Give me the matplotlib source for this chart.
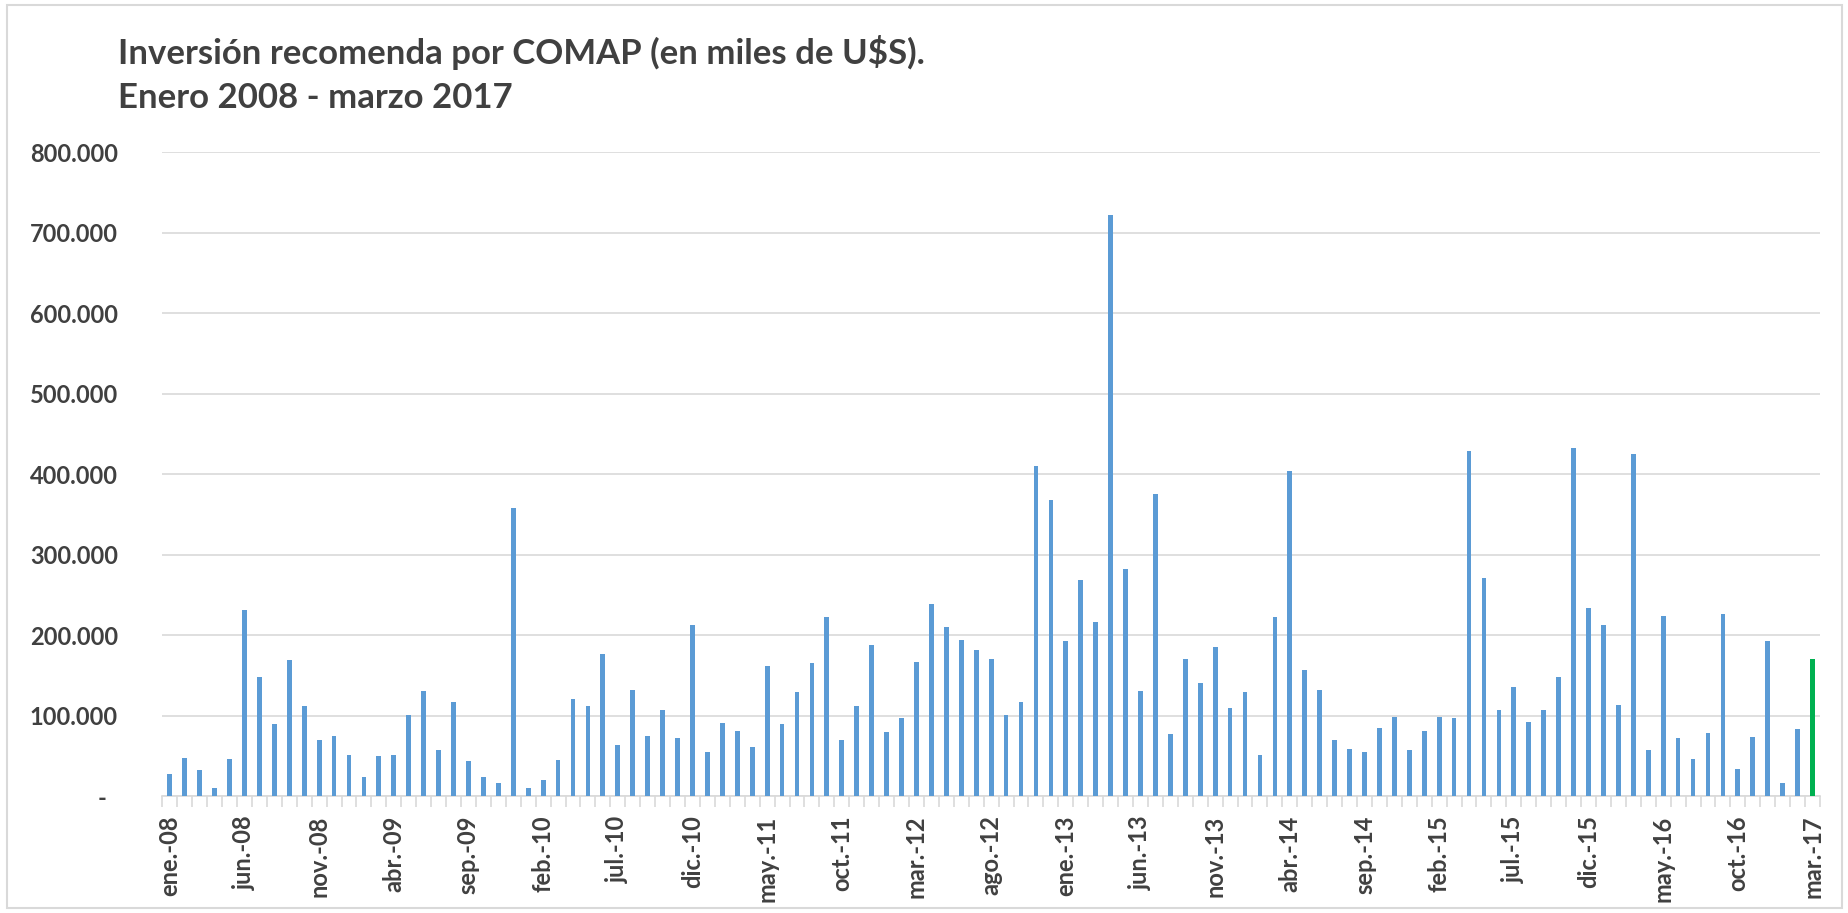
import numpy as np
import matplotlib
matplotlib.use("Agg")
import matplotlib.pyplot as plt
from matplotlib.ticker import FuncFormatter, FixedLocator

plt.rcParams['font.family'] = ['Lato', 'DejaVu Sans']

# monthly values, ene-2008 .. mar-2017 (miles de U$S)
v2008 = [27000, 47600, 32000, 9500, 46000, 230600, 147800, 89000, 168500, 111400, 70000, 75000]
v2009 = [51000, 23600, 49300, 51000, 100200, 130400, 57000, 116400, 43000, 24000, 15700, 358000]
v2010 = [9500, 19500, 44700, 121000, 111400, 176400, 63800, 132000, 75000, 106400, 71600, 213000]
v2011 = [54200, 90700, 81200, 60500, 162000, 89000, 128800, 165000, 222000, 70000, 111400, 187600]
v2012 = [79500, 97000, 166900, 238500, 210000, 194000, 181000, 170000, 100200, 116400, 410000, 367700]
v2013 = [192500, 268700, 216000, 722000, 281600, 130000, 375000, 76600, 170000, 141000, 184700, 109700]
v2014 = [128800, 51000, 222000, 404000, 157000, 132000, 70000, 58800, 54200, 84000, 98500, 57000]
v2015 = [81000, 98500, 97000, 428000, 270400, 106400, 135000, 92000, 106400, 147800, 432000, 233500]
v2016 = [213000, 112600, 425000, 57000, 224000, 71600, 46000, 77800, 225700, 33000, 72900, 192500]
v2017 = [15700, 82800, 170000]

values = v2008 + v2009 + v2010 + v2011 + v2012 + v2013 + v2014 + v2015 + v2016 + v2017
meses = ['ene.', 'feb.', 'mar.', 'abr.', 'may.', 'jun.', 'jul.', 'ago.', 'sep.', 'oct.', 'nov.', 'dic.']
labels = [f"{meses[i % 12]}-{8 + i // 12:02d}" for i in range(len(values))]

txt = '#404040'
blue = '#5B9BD5'
green = '#00B050'

fig = plt.figure(figsize=(18.49, 9.13), dpi=100)
ax = fig.add_axes([0.0878, 0.1281, 0.8965, 0.7054])

x = np.arange(len(values))
colors = [blue] * (len(values) - 1) + [green]
ax.bar(x, values, width=0.32, color=colors, zorder=3)

ax.set_xlim(-0.5, len(values) - 0.5)
ax.set_ylim(0, 800000)
ax.set_yticks(np.arange(0, 800001, 100000))
ax.yaxis.set_major_formatter(FuncFormatter(lambda v, p: '-  ' if v == 0 else f"{int(v):,}".replace(',', '.')))
ax.grid(axis='y', color='#D9D9D9', linewidth=1.2, zorder=0)
ax.tick_params(axis='y', length=0, pad=32, labelsize=17, labelcolor=txt)
for t in ax.get_yticklabels():
    t.set_fontweight('bold')

# x axis: label every 5 months, small ticks at month boundaries
ax.xaxis.set_major_locator(FixedLocator(x[::5]))
ax.set_xticklabels(labels[::5], rotation=90, fontsize=17, fontweight='bold', color=txt)
ax.xaxis.set_minor_locator(FixedLocator(np.arange(-0.5, len(values), 1)))
ax.tick_params(axis='x', which='major', length=0, pad=14)
ax.tick_params(axis='x', which='minor', length=8, color='#D9D9D9', width=1.2)

for s in ['top', 'right', 'left']:
    ax.spines[s].set_visible(False)
ax.spines['bottom'].set_color('#D9D9D9')
ax.spines['bottom'].set_linewidth(1.2)

fig.text(118 / 1849, 1 - 53 / 913, 'Inversión recomenda por COMAP (en miles de U$S).',
         fontsize=25, fontweight='bold', color=txt, va='center', ha='left')
fig.text(118 / 1849, 1 - 98 / 913, 'Enero 2008 - marzo 2017',
         fontsize=25, fontweight='bold', color=txt, va='center', ha='left')

fig.patches.append(plt.Rectangle((7 / 1849, 5 / 913), 1 - 14 / 1849, 1 - 10 / 913,
                                 transform=fig.transFigure, fill=False,
                                 edgecolor='#D9D9D9', linewidth=1.5))

fig.savefig('out.png', dpi=100)
